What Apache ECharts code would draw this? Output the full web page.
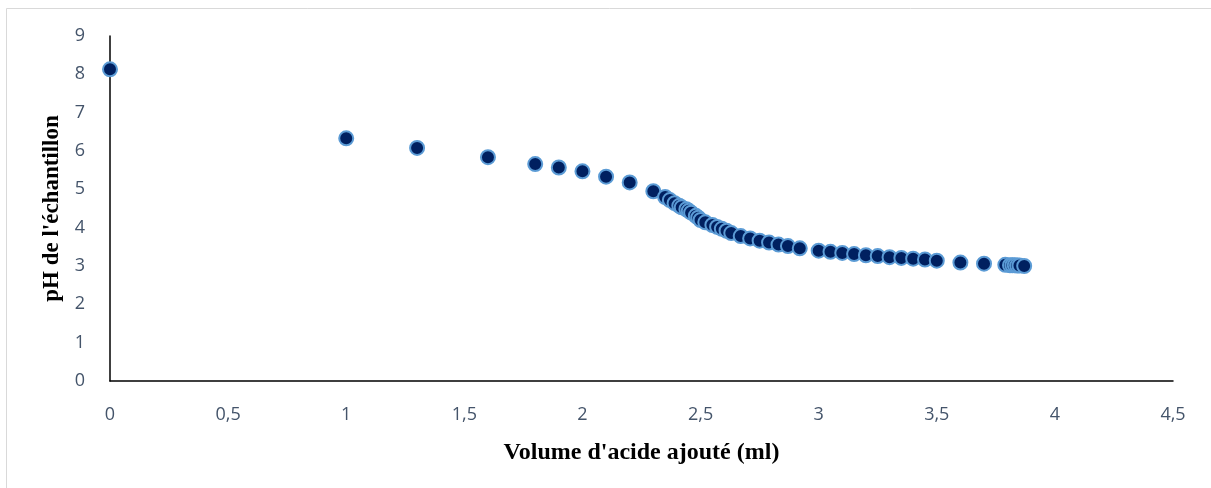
<!DOCTYPE html>
<html><head><meta charset="utf-8">
<script src="https://cdn.jsdelivr.net/npm/echarts@6/dist/echarts.min.js"></script>
<style>html,body{margin:0;padding:0;background:#fff;}#c{width:1211px;height:488px;}</style>
</head><body><div id="c"></div>
<script>
const volumes = [0, 1.0, 1.3, 1.6, 1.8, 1.9, 2.0, 2.1, 2.2, 2.3,
  2.35, 2.37, 2.39, 2.41, 2.42, 2.44, 2.45, 2.46, 2.48, 2.49, 2.5,
  2.52, 2.55, 2.57, 2.59, 2.61, 2.63, 2.67, 2.71, 2.75, 2.79, 2.83, 2.87, 2.92,
  3.0, 3.05, 3.1, 3.15, 3.2, 3.25, 3.3, 3.35, 3.4, 3.45, 3.5,
  3.6, 3.7, 3.79, 3.81, 3.82, 3.83, 3.84, 3.85, 3.87];
const phValues = [8.13, 6.33, 6.08, 5.84, 5.66, 5.57, 5.47, 5.33, 5.18, 4.95,
  4.8, 4.72, 4.64, 4.57, 4.53, 4.48, 4.44, 4.39, 4.31, 4.26, 4.2,
  4.14, 4.07, 4.02, 3.97, 3.92, 3.86, 3.78, 3.72, 3.66, 3.61, 3.56, 3.52, 3.46,
  3.4, 3.37, 3.34, 3.31, 3.28, 3.26, 3.23, 3.21, 3.19, 3.17, 3.14,
  3.09, 3.06, 3.03, 3.02, 3.02, 3.02, 3.01, 3.01, 3.0];
const xTitle = "Volume d'acide ajouté (ml)";
const yTitle = "pH de l'échantillon";

const chart = echarts.init(document.getElementById('c'), null, {renderer: 'canvas'});
const labelColor = '#44546A';
chart.setOption({
  animation: false,
  backgroundColor: '#fff',
  graphic: [{type: 'rect', shape: {x: 6.5, y: 8.5, width: 1300, height: 700},
    style: {fill: 'none', stroke: '#D9D9D9', lineWidth: 1}, silent: true}],
  grid: {left: 110, right: 38, top: 36, bottom: 107, containLabel: false},
  xAxis: {
    type: 'value', min: 0, max: 4.5, interval: 0.5,
    name: xTitle, nameLocation: 'middle', nameGap: 60,
    nameTextStyle: {fontFamily: 'Liberation Serif', fontWeight: 'bold', fontSize: 24, color: '#000'},
    axisLine: {show: true, onZero: false, lineStyle: {color: '#000', width: 1.5}},
    axisTick: {show: false}, splitLine: {show: false},
    axisLabel: {color: labelColor, fontFamily: 'Open Sans', fontSize: 18, margin: 25,
      formatter: v => String(Math.round(v * 10) / 10).replace('.', ',')}
  },
  yAxis: {
    type: 'value', min: 0, max: 9, interval: 1,
    name: yTitle, nameLocation: 'middle', nameGap: 40, nameRotate: 90,
    nameTextStyle: {fontFamily: 'Liberation Serif', fontWeight: 'bold', fontSize: 23, color: '#000'},
    axisLine: {show: true, lineStyle: {color: '#000', width: 1.5}},
    axisTick: {show: false}, splitLine: {show: false},
    axisLabel: {color: labelColor, fontFamily: 'Open Sans', fontSize: 18, margin: 25}
  },
  series: [{
    type: 'scatter',
    data: volumes.map((v, i) => [v, phValues[i]]),
    symbol: 'circle', symbolSize: 14,
    itemStyle: {color: '#002060', borderColor: '#5B9BD5', borderWidth: 2, opacity: 1}
  }]
});
</script></body></html>
